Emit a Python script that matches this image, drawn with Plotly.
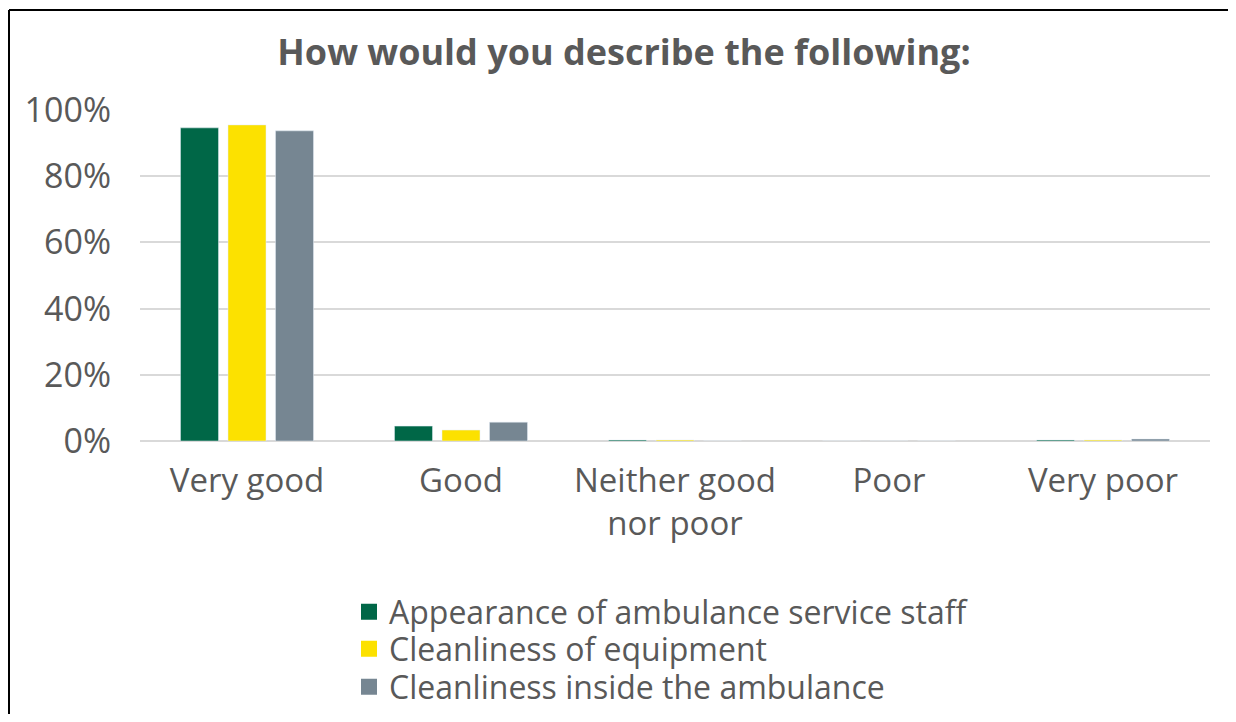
import plotly.graph_objects as go

categories = ["Very good", "Good", "Neither good<br>nor poor", "Poor", "Very poor"]
series_names = ["Appearance of ambulance service staff", "Cleanliness of equipment", "Cleanliness inside the ambulance"]
appearance = [0.946, 0.045, 0.003, 0.0, 0.003]
equipment = [0.955, 0.033, 0.003, 0.0, 0.003]
inside = [0.937, 0.057, 0.0, 0.0, 0.006]
colors = ["#006747", "#FCE100", "#768692"]
tick_vals = [0, 0.2, 0.4, 0.6, 0.8, 1.0]

OFF = 8  # page body margin
W, H = 1236 - 2 * OFF, 722 - 2 * OFF
L = 140 - OFF
T = 110 - OFF
R = W - (1210 - OFF)
B = H - (441 - OFF)
pw, ph = W - L - R, H - T - B

def px_x(x):
    return (x - OFF - L) / pw

def px_y(y):
    return 1 - (y - OFF - T) / ph

font_family = "Open Sans"
txt = "#595959"
legend_rows = [612, 649, 687]
legend_names = ["legend", "legend2", "legend3"]

fig = go.Figure()
for name, vals, c in zip(series_names, [appearance, equipment, inside], colors):
    fig.add_trace(go.Bar(x=categories, y=vals, name=name, marker_color=c, showlegend=False))
for name, c, lg in zip(series_names, colors, legend_names):
    fig.add_trace(go.Scatter(x=[None], y=[None], mode="markers", name=name, legend=lg,
                             marker=dict(symbol="square", size=18, color=c)))

legend_common = dict(orientation="v", xanchor="left", yanchor="middle", bgcolor="rgba(0,0,0,0)",
                     font=dict(size=32, color=txt, family=font_family), itemwidth=30)
legends = {}
for lg, row in zip(legend_names, legend_rows):
    legends[lg] = dict(legend_common, x=px_x(349), y=px_y(row))

fig.update_layout(
    width=W, height=H,
    margin=dict(l=L, r=R, t=T, b=B, autoexpand=False),
    paper_bgcolor="white", plot_bgcolor="white",
    barmode="group", bargap=0.334, bargroupgap=0.2,
    font=dict(family=font_family, color=txt, size=33),
    title=dict(text="<b>How would you describe the following:</b>", x=(624 - OFF) / W, xanchor="center",
               y=1 - (52 - OFF) / H, yanchor="middle", font=dict(size=36, color=txt, family=font_family)),
    xaxis=dict(showgrid=False, showline=False, ticks="", tickfont=dict(size=33, color=txt),
               ticklabelstandoff=17),
    yaxis=dict(range=[0, 1], tickvals=tick_vals, tickformat=".0%", gridcolor="#d9d9d9", gridwidth=1.5,
               zeroline=True, zerolinecolor="#d9d9d9", zerolinewidth=2, showline=False,
               tickfont=dict(size=34, color=txt), ticklabelstandoff=28),
    **legends,
)

bx = px_x(9)
by = px_y(10)
fig.add_shape(type="line", xref="paper", yref="paper", x0=bx, x1=bx, y0=by, y1=-3, line=dict(color="black", width=2))
fig.add_shape(type="line", xref="paper", yref="paper", x0=bx, x1=2, y0=by, y1=by, line=dict(color="black", width=2))

fig.write_html("out.html")
